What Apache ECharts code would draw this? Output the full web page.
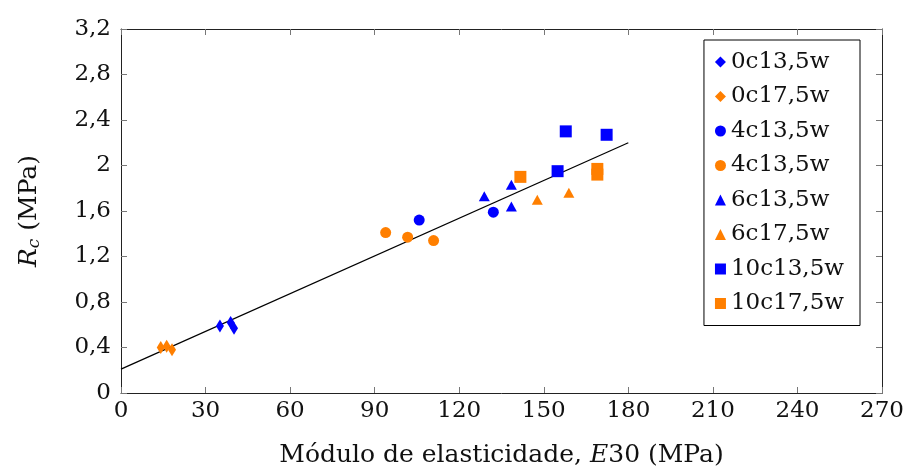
<!DOCTYPE html>
<html>
<head>
<meta charset="utf-8">
<script src="https://cdn.jsdelivr.net/npm/echarts@6/dist/echarts.min.js"></script>
<style>
  html, body { margin: 0; padding: 0; background: #fff; }
  #chart { width: 908px; height: 469px; }
</style>
</head>
<body>
<div id="chart"></div>
<script>
// values: [E30 (MPa), Rc (MPa)]
const s0c135 = [[35.1, 0.59], [38.9, 0.62], [40.1, 0.57]];
const s0c175 = [[14.1, 0.40], [16.2, 0.41], [18.1, 0.38]];
const s4c135 = [[105.8, 1.52], [132.1, 1.59]];
const s4c175 = [[93.9, 1.41], [101.7, 1.37], [110.9, 1.34]];
const s6c135 = [[128.9, 1.73], [138.5, 1.83], [138.5, 1.64]];
const s6c175 = [[147.7, 1.70], [158.9, 1.76]];
const s10c135 = [[157.8, 2.30], [172.3, 2.27], [154.9, 1.95]];
const s10c175 = [[141.7, 1.90], [169.0, 1.97], [169.0, 1.92]];
const fitLine = [[0, 0.21], [180, 2.2]];

const xTicks = { min: 0, max: 270, interval: 30 };
const yTicks = { min: 0, max: 3.2, interval: 0.4 };

const blue = "#0000ff";
const orange = "#ff7f00";
const font = "DejaVu Serif";
const fs = 23;
const titleFs = 25;

const chart = echarts.init(document.getElementById("chart"));

function scatter(name, data, symbol, size, color) {
  return {
    name: name,
    type: "scatter",
    data: data,
    symbol: symbol,
    symbolSize: size,
    itemStyle: { color: color, opacity: 1 },
    z: 3,
  };
}

const tickStyle = {
  show: true,
  inside: true,
  length: 6,
  lineStyle: { color: "#777", width: 1 },
};

const options = {
  animation: false,
  textStyle: { fontFamily: font },
  grid: { left: 121, right: 26, top: 29, bottom: 76, containLabel: false, outerBoundsMode: "none" },
  legend: {
    orient: "vertical",
    right: 48,
    top: 40,
    padding: [10, 16, 10, 11],
    itemGap: 10.5,
    itemWidth: 11,
    itemHeight: 11,
    backgroundColor: "#fff",
    borderColor: "#000",
    borderWidth: 1,
    borderRadius: 0,
    textStyle: { fontFamily: font, fontSize: fs, color: "#111", lineHeight: 24 },
    data: [
      { name: "0c13,5w", icon: "diamond" },
      { name: "0c17,5w", icon: "diamond" },
      { name: "4c13,5w", icon: "circle" },
      { name: "4c13,5w ", icon: "circle" },
      { name: "6c13,5w", icon: "triangle" },
      { name: "6c17,5w", icon: "triangle" },
      { name: "10c13,5w", icon: "rect" },
      { name: "10c17,5w", icon: "rect" },
    ],
  },
  xAxis: [
    {
      type: "value",
      min: xTicks.min,
      max: xTicks.max,
      interval: xTicks.interval,
      name: "{t|Módulo de elasticidade, }{i|E}{t|30 (MPa)}",
      nameLocation: "middle",
      nameGap: 50,
      nameTextStyle: {
        rich: {
          t: { fontFamily: font, fontSize: titleFs, color: "#111" },
          i: { fontFamily: font, fontSize: titleFs, color: "#111", fontStyle: "italic" },
        },
      },
      axisLine: { show: true, onZero: false, lineStyle: { color: "#222", width: 1 } },
      axisTick: tickStyle,
      axisLabel: { fontFamily: font, fontSize: fs, color: "#111", margin: 7 },
      splitLine: { show: false },
    },
    {
      type: "value",
      position: "top",
      min: xTicks.min,
      max: xTicks.max,
      interval: xTicks.interval,
      axisLine: { show: true, onZero: false, lineStyle: { color: "#222", width: 1 } },
      axisTick: tickStyle,
      axisLabel: { show: false },
      splitLine: { show: false },
    },
  ],
  yAxis: [
    {
      type: "value",
      min: yTicks.min,
      max: yTicks.max,
      interval: yTicks.interval,
      name: "{i|R}{s|c}{t| (MPa)}",
      nameLocation: "middle",
      nameRotate: 90,
      nameGap: 78,
      nameTextStyle: {
        rich: {
          t: { fontFamily: font, fontSize: titleFs, color: "#111" },
          i: { fontFamily: font, fontSize: titleFs, color: "#111", fontStyle: "italic" },
          s: { fontFamily: font, fontSize: 17, color: "#111", fontStyle: "italic", verticalAlign: "bottom", padding: [11, 0, 0, 0] },
        },
      },
      axisLine: { show: true, onZero: false, lineStyle: { color: "#222", width: 1 } },
      axisTick: tickStyle,
      axisLabel: {
        fontFamily: font,
        fontSize: fs,
        color: "#111",
        margin: 10,
        formatter: (v) => String(+v.toFixed(1)).replace(".", ","),
      },
      splitLine: { show: false },
    },
    {
      type: "value",
      position: "right",
      min: yTicks.min,
      max: yTicks.max,
      interval: yTicks.interval,
      axisLine: { show: true, onZero: false, lineStyle: { color: "#222", width: 1 } },
      axisTick: tickStyle,
      axisLabel: { show: false },
      splitLine: { show: false },
    },
  ],
  series: [
    {
      name: "fit",
      type: "line",
      data: fitLine,
      showSymbol: false,
      lineStyle: { color: "#000", width: 1.2 },
      z: 2,
    },
    scatter("0c13,5w", s0c135, "diamond", [8, 13], blue),
    scatter("0c17,5w", s0c175, "diamond", [8, 13], orange),
    scatter("4c13,5w", s4c135, "circle", 11, blue),
    scatter("4c13,5w ", s4c175, "circle", 11, orange),
    scatter("6c13,5w", s6c135, "triangle", [11, 10], blue),
    scatter("6c17,5w", s6c175, "triangle", [11, 10], orange),
    scatter("10c13,5w", s10c135, "rect", 12, blue),
    scatter("10c17,5w", s10c175, "rect", 12, orange),
  ],
};

chart.setOption(options);
</script>
</body>
</html>
